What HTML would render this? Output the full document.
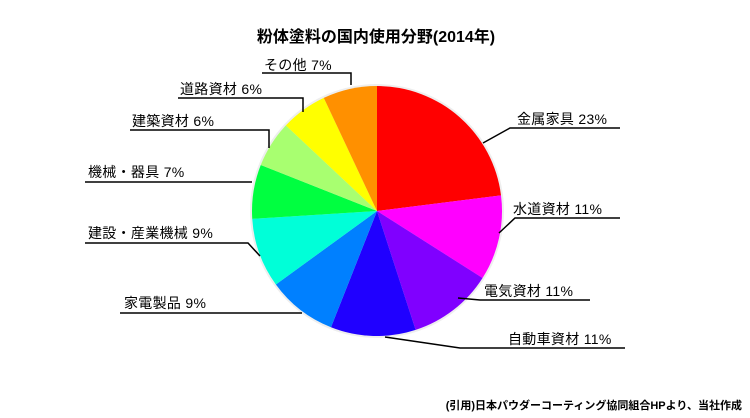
<!DOCTYPE html>
<html><head><meta charset="utf-8"><style>
body{margin:0;background:#fff;}
svg{display:block;font-family:"Liberation Sans","Noto Sans CJK JP",sans-serif;}
</style></head><body>
<svg id="s" width="750" height="418" viewBox="0 0 750 418">
<text x="376" y="42" text-anchor="middle" font-size="16" font-weight="bold" fill="#000">粉体塗料の国内使用分野(2014年)</text>
<circle cx="377" cy="211" r="127" fill="#eee"/>
<g id="pie"></g>
<g stroke="#000" stroke-width="1.5" fill="none">
<polyline points="483,143 510,128 620,128"/>
<polyline points="499,233 515,218 620,218"/>
<polyline points="458,298 480,300 590,300"/>
<polyline points="385,337 460,348 625,348"/>
<polyline points="302,313 120,313"/>
<polyline points="260,256 248,243 85,243"/>
<polyline points="252,182 85,182"/>
<polyline points="269,148 269,130 130,130"/>
<polyline points="303,112 303,98 178,98"/>
<polyline points="351,85 351,73 262,73"/>
</g>
<g font-size="14" fill="#000" letter-spacing="0.3">
<text x="517" y="124">金属家具 23%</text>
<text x="513" y="214">水道資材 11%</text>
<text x="484" y="296">電気資材 11%</text>
<text x="508" y="344">自動車資材 11%</text>
<text x="124" y="308">家電製品 9%</text>
<text x="88" y="238">建設・産業機械 9%</text>
<text x="88" y="177">機械・器具 7%</text>
<text x="132" y="126">建築資材 6%</text>
<text x="180" y="94">道路資材 6%</text>
<text x="264" y="70">その他 7%</text>
</g>
<text x="742" y="409" text-anchor="end" font-size="11" font-weight="bold" fill="#000">(引用)日本パウダーコーティング協同組合HPより、当社作成</text>
</svg>
<script>
var d=[[23,"#ff0000"],[11,"#ff00ff"],[11,"#8000ff"],[11,"#2000ff"],[9,"#0080ff"],[9,"#00ffd8"],[7,"#00ff40"],[6,"#a8ff70"],[6,"#ffff00"],[7,"#ff9000"]];
var cx=377,cy=211,r=125,a=0,h="";
d.forEach(function(e){var b=a+e[0]/100*2*Math.PI;
var x1=cx+r*Math.sin(a),y1=cy-r*Math.cos(a),x2=cx+r*Math.sin(b),y2=cy-r*Math.cos(b);
h+='<path d="M'+cx+','+cy+'L'+x1+','+y1+'A'+r+','+r+' 0 '+(b-a>Math.PI?1:0)+' 1 '+x2+','+y2+'Z" fill="'+e[1]+'"/>';a=b;});
document.getElementById("pie").innerHTML=h;
</script>
</body></html>
